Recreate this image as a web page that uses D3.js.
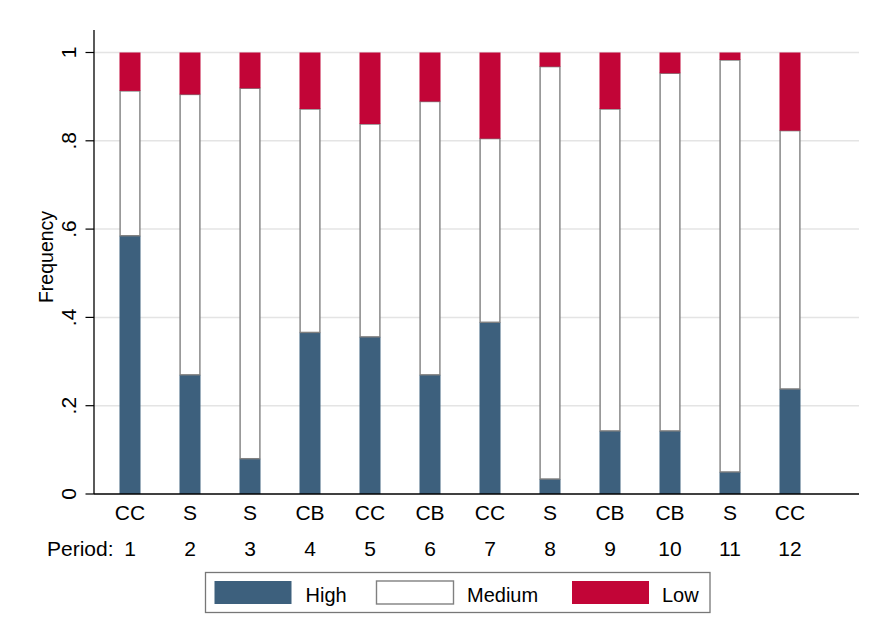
<!DOCTYPE html>
<html>
<head>
<meta charset="utf-8">
<script src="https://cdn.jsdelivr.net/npm/d3@7"></script>
<style>
  html, body { margin: 0; padding: 0; background: #fff; }
  svg { display: block; font-family: "Liberation Sans", Arial, Helvetica, sans-serif; }
</style>
</head>
<body>
<svg id="chart" width="870" height="638"></svg>
<script>
// Share of High / Medium / Low outcomes in each period
const periods = ["1", "2", "3", "4", "5", "6", "7", "8", "9", "10", "11", "12"];
const treatments = ["CC", "S", "S", "CB", "CC", "CB", "CC", "S", "CB", "CB", "S", "CC"];
const high   = [0.585, 0.270, 0.080, 0.366, 0.356, 0.270, 0.389, 0.034, 0.143, 0.143, 0.050, 0.238];
const medium = [0.328, 0.635, 0.839, 0.506, 0.482, 0.619, 0.416, 0.934, 0.729, 0.810, 0.933, 0.585];
const low    = [0.087, 0.095, 0.081, 0.128, 0.162, 0.111, 0.195, 0.032, 0.128, 0.047, 0.017, 0.177];
const seriesNames = ["High", "Medium", "Low"];
const yTicks = [0, 0.2, 0.4, 0.6, 0.8, 1];
const yTickLabels = ["0", ".2", ".4", ".6", ".8", "1"];

const colors = { High: "#3d607d", Medium: "#ffffff", Low: "#c20537" };
const strokes = { High: "none", Medium: "#808080", Low: "none" };

const svg = d3.select("#chart");
const plotLeft = 94, plotRight = 859, plotTop = 52.5, plotBottom = 494;

const x = d3.scaleBand().domain(periods).range([100, 820]).paddingInner(0.65).paddingOuter(0.325);
const y = d3.scaleLinear().domain([0, 1]).range([plotBottom, plotTop]);

// gridlines
svg.append("g").selectAll("line")
  .data(yTicks.filter(d => d > 0))
  .join("line")
  .attr("x1", plotLeft).attr("x2", plotRight)
  .attr("y1", d => y(d)).attr("y2", d => y(d))
  .attr("stroke", "#e4e4e4").attr("stroke-width", 1.5);

// stacked bars
const rows = periods.map((p, i) => ({ period: p, High: high[i], Medium: medium[i], Low: low[i] }));
const stacked = d3.stack().keys(seriesNames)(rows);

const bw = x.bandwidth();
stacked.forEach(layer => {
  const key = layer.key;
  const inset = strokes[key] === "none" ? 0 : 0.6;
  svg.append("g").selectAll("rect")
    .data(layer)
    .join("rect")
    .attr("x", d => x(d.data.period) + inset)
    .attr("width", bw - 2 * inset)
    .attr("y", d => y(d[1]))
    .attr("height", d => y(d[0]) - y(d[1]))
    .attr("fill", colors[key])
    .attr("stroke", strokes[key])
    .attr("stroke-width", 1.4);
});

// y axis
const yAxis = svg.append("g");
yAxis.append("line")
  .attr("x1", plotLeft).attr("x2", plotLeft).attr("y1", 30).attr("y2", plotBottom)
  .attr("stroke", "#000").attr("stroke-width", 1.3);
yAxis.selectAll("line.tick")
  .data(yTicks)
  .join("line")
  .attr("class", "tick")
  .attr("x1", 85.5).attr("x2", plotLeft)
  .attr("y1", d => y(d)).attr("y2", d => y(d))
  .attr("stroke", "#000").attr("stroke-width", 1.2);
yAxis.selectAll("text")
  .data(yTicks)
  .join("text")
  .attr("transform", d => `translate(75.5,${y(d)}) rotate(-90)`)
  .attr("text-anchor", "middle")
  .attr("font-size", 21)
  .attr("fill", "#000")
  .text((d, i) => yTickLabels[i]);

svg.append("text")
  .attr("transform", "translate(52.5,257) rotate(-90)")
  .attr("text-anchor", "middle")
  .attr("font-size", 19.5)
  .attr("fill", "#000")
  .text("Frequency");

// x axis
svg.append("line")
  .attr("x1", plotLeft).attr("x2", plotRight).attr("y1", plotBottom).attr("y2", plotBottom)
  .attr("stroke", "#000").attr("stroke-width", 1.3);

svg.append("g").selectAll("text")
  .data(periods)
  .join("text")
  .attr("x", d => x(d) + bw / 2)
  .attr("y", 519.5)
  .attr("text-anchor", "middle")
  .attr("font-size", 21)
  .text((d, i) => treatments[i]);

svg.append("g").selectAll("text")
  .data(periods)
  .join("text")
  .attr("x", d => x(d) + bw / 2)
  .attr("y", 556)
  .attr("text-anchor", "middle")
  .attr("font-size", 21)
  .text(d => d);

svg.append("text")
  .attr("x", 113.5).attr("y", 556)
  .attr("text-anchor", "end")
  .attr("font-size", 21)
  .text("Period:");

// legend
const legend = svg.append("g");
legend.append("rect")
  .attr("x", 205.5).attr("y", 572.5).attr("width", 504.5).attr("height", 40)
  .attr("fill", "#fff").attr("stroke", "#777").attr("stroke-width", 1.3);
const legendX = [214.5, 376.5, 572];
const legendTextX = [305.5, 467, 662];
seriesNames.forEach((name, i) => {
  legend.append("rect")
    .attr("x", legendX[i]).attr("y", 581)
    .attr("width", 77).attr("height", 23)
    .attr("fill", colors[name])
    .attr("stroke", strokes[name])
    .attr("stroke-width", 1.4);
  legend.append("text")
    .attr("x", legendTextX[i]).attr("y", 602)
    .attr("font-size", 20)
    .text(name);
});
</script>
</body>
</html>
